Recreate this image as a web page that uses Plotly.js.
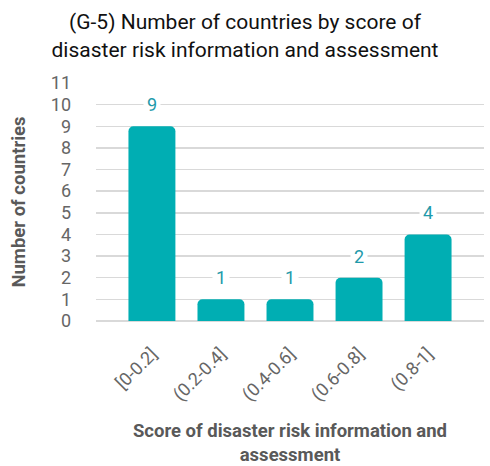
<!DOCTYPE html>
<html>
<head>
<meta charset="utf-8">
<script src="https://cdn.plot.ly/plotly-3.0.1.min.js"></script>
<style>html,body{margin:0;padding:0;background:#fff;}#chart{width:490px;height:466px;}</style>
</head>
<body>
<div id="chart"></div>
<script>
const categories = ["[0-0.2]", "(0.2-0.4]", "(0.4-0.6]", "(0.6-0.8]", "(0.8-1]"];
const counts = [9, 1, 1, 2, 4];
const yTicks = [0, 1, 2, 3, 4, 5, 6, 7, 8, 9, 10, 11];

const barColor = "#00AEB3";
const labelColor = "#1F9AAA";

const trace = {
  type: "bar",
  x: categories.map((c, i) => i),
  y: counts,
  width: 0.68,
  marker: {color: barColor, cornerradius: 5},
  hoverinfo: "skip"
};

const annotations = counts.map((v, i) => ({
  x: i, y: v + 1, xref: "x", yref: "y",
  text: String(v), showarrow: false,
  bgcolor: "#ffffff", borderpad: 3,
  font: {family: "Roboto", size: 18, color: labelColor}
}));

const layout = {
  width: 490, height: 466,
  margin: {l: 96, r: 6, t: 83, b: 145},
  paper_bgcolor: "#fff", plot_bgcolor: "#fff",
  showlegend: false,
  title: {
    text: "(G-5) Number of countries by score of<br>disaster risk information and assessment",
    font: {family: "Roboto", size: 21, color: "#111"},
    x: 0.5, xanchor: "center", xref: "container",
    yref: "container", y: 0.937, yanchor: "middle"
  },
  xaxis: {
    range: [-0.81, 4.81],
    tickmode: "array",
    tickvals: categories.map((c, i) => i),
    ticktext: categories,
    tickangle: -45,
    tickfont: {family: "Roboto", size: 18, color: "#666"},
    showgrid: false, zeroline: false, showline: false,
    ticklabelstandoff: 18,
    title: {
      text: "<b>Score of disaster risk information and<br>assessment</b>",
      font: {family: "Roboto", size: 18.5, color: "#595959"},
      standoff: 28
    }
  },
  yaxis: {
    range: [0, 11],
    tickmode: "array",
    tickvals: yTicks,
    tickfont: {family: "Roboto", size: 18, color: "#666"},
    showgrid: true, gridcolor: "#D9D9D9", gridwidth: 1.5,
    zeroline: true, zerolinecolor: "#D9D9D9", zerolinewidth: 1.5,
    showline: false,
    ticklabelstandoff: 24,
    title: {
      text: "<b>Number of countries</b>",
      font: {family: "Roboto", size: 18.5, color: "#595959"},
      standoff: 20
    }
  },
  annotations: annotations
};

Plotly.newPlot("chart", [trace], layout, {displayModeBar: false, staticPlot: true});
</script>
</body>
</html>
